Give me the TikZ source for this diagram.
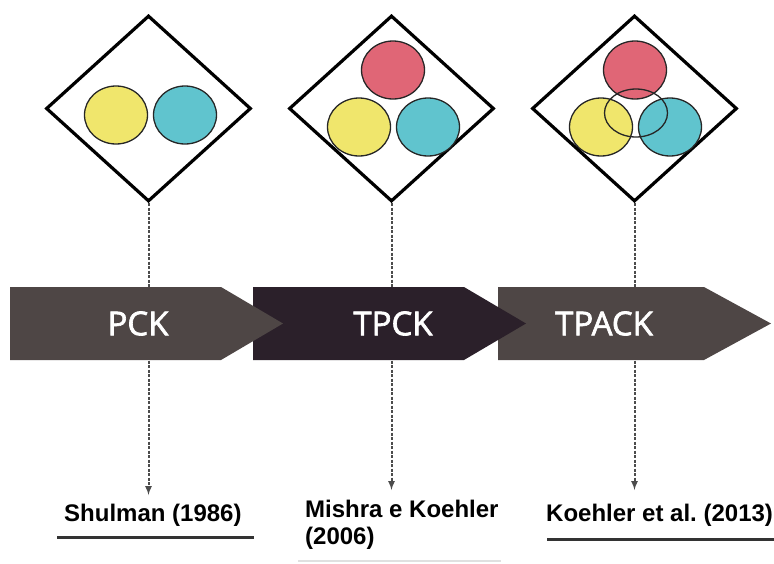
\documentclass[tikz,border=0pt]{standalone}
\usepackage{fontspec}
\setmainfont{Liberation Sans}
\newfontfamily\bandfont[FakeBold=2]{Open Sans}
\usepackage{tikz}
\usetikzlibrary{shapes.geometric}

\definecolor{ylw}{RGB}{240,230,108}
\definecolor{cyn}{RGB}{96,196,206}
\definecolor{rse}{RGB}{224,102,118}
\definecolor{greyband}{RGB}{78,70,69}
\definecolor{darkband}{RGB}{43,32,42}

\frenchspacing
\begin{document}
\begin{tikzpicture}[x=1pt,y=-1pt,
      kite/.style={
            diamond, draw=black, line width=3.2pt,
            minimum width=205pt, minimum height=186pt, inner sep=0pt
        },
      blob/.style={
            ellipse, draw=black!85, line width=1.3pt,
            minimum width=63pt, minimum height=58pt, inner sep=0pt
        },
      link/.style={
            draw=black!70, line width=2pt, dash pattern=on 3pt off 1.5pt, -latex
        },
      tag/.style={
            text=white, font=\bandfont\fontsize{33}{36}\selectfont, inner sep=0pt
        },
      cite/.style={
            font=\bfseries\fontsize{24}{27}\selectfont, inner sep=0pt, align=left
        },
      rule/.style={draw=black!80, line width=3pt}
      ]
    \useasboundingbox (0,0) rectangle (774,563);

    % diamonds
    \node[kite] (d1) at (148.5,108.5) {};
    \node[kite] (d2) at (391.5,108.5) {};
    \node[kite] (d3) at (634.5,108.5) {};

    % circles
    \node[blob,fill=ylw] (y1) at (116,115) {};
    \node[blob,fill=cyn] (c1) at (185,115) {};

    \node[blob,fill=rse] (r2) at (393,70) {};
    \node[blob,fill=ylw] (y2) at (359,127) {};
    \node[blob,fill=cyn] (c2) at (428,127) {};

    \node[blob,fill=rse] (r3) at (635,70) {};
    \node[blob,fill=ylw] (y3) at (601,127) {};
    \node[blob,fill=cyn] (c3) at (670,127) {};
    \node[blob,minimum height=48pt] (o3) at (636,113) {};

    % dashed links
    \coordinate (e1) at (148.5,495);
    \coordinate (e2) at (391.5,490);
    \coordinate (e3) at (634.5,490);
    \draw[link] (d1.south) -- (e1);
    \draw[link] (d2.south) -- (e2);
    \draw[link] (d3.south) -- (e3);

    % band of arrows
    \fill[greyband] (498,287) -- (704,287) -- (771,323.5) -- (704,360) -- (498,360) -- cycle;
    \fill[darkband] (253,287) -- (464,287) -- (526,323.5) -- (464,360) -- (253,360) -- cycle;
    \fill[greyband] (10,287) -- (221,287) -- (283,323.5) -- (221,360) -- (10,360) -- cycle;

    \node[tag] (pck) at (138,323.5) {PCK};
    \node[tag] (tpck) at (393,323.5) {TPCK};
    \node[tag] (tpack) at (604,323.5) {TPACK};

    % references
    \node[cite,anchor=west] (s1) at (64,515) {Shulman (1986)};
    \node[cite,anchor=north west] (s2) at (305,500) {Mishra e Koehler\\(2006)};
    \node[cite,anchor=west] (s3) at (546,515) {Koehler et al. (2013)};

    \draw[rule] (57,537) -- (254,537);
    \draw[rule] (547,539) -- (774,539);
    \draw[draw=black!12, line width=2pt] (298,561) -- (501,561);
  \end{tikzpicture}
\end{document}
